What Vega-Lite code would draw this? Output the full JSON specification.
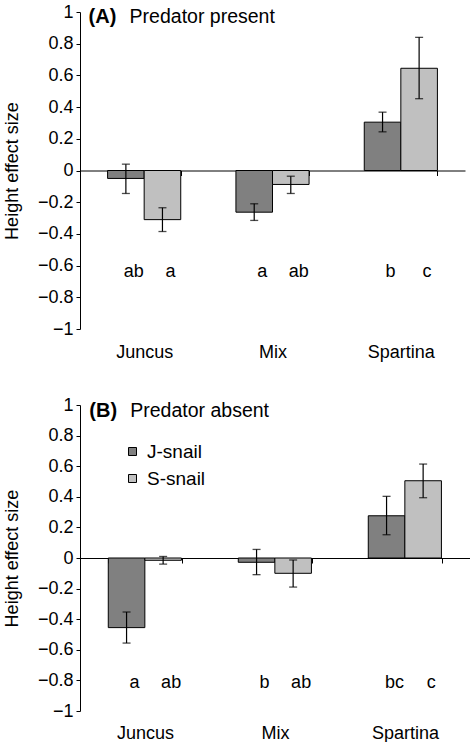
{
  "$schema": "https://vega.github.io/schema/vega-lite/v6.json",
  "background": "white",
  "padding": {"top": 3, "left": 3, "right": 0, "bottom": 0},
  "spacing": 34,
  "resolve": {"scale": {"color": "independent"}, "legend": {"color": "independent"}},
  "datasets": {
    "bars": [
      {"panel": "A", "cat": "Juncus", "snail": "J-snail", "mean": -0.05, "lo": -0.145, "hi": 0.04, "letter": "ab"},
      {"panel": "A", "cat": "Juncus", "snail": "S-snail", "mean": -0.31, "lo": -0.385, "hi": -0.235, "letter": "a"},
      {"panel": "A", "cat": "Mix", "snail": "J-snail", "mean": -0.263, "lo": -0.315, "hi": -0.21, "letter": "a"},
      {"panel": "A", "cat": "Mix", "snail": "S-snail", "mean": -0.088, "lo": -0.145, "hi": -0.036, "letter": "ab"},
      {"panel": "A", "cat": "Spartina", "snail": "J-snail", "mean": 0.305, "lo": 0.244, "hi": 0.368, "letter": "b"},
      {"panel": "A", "cat": "Spartina", "snail": "S-snail", "mean": 0.645, "lo": 0.453, "hi": 0.84, "letter": "c"},
      {"panel": "B", "cat": "Juncus", "snail": "J-snail", "mean": -0.455, "lo": -0.556, "hi": -0.353, "letter": "a"},
      {"panel": "B", "cat": "Juncus", "snail": "S-snail", "mean": -0.015, "lo": -0.04, "hi": 0.01, "letter": "ab"},
      {"panel": "B", "cat": "Mix", "snail": "J-snail", "mean": -0.028, "lo": -0.109, "hi": 0.056, "letter": "b"},
      {"panel": "B", "cat": "Mix", "snail": "S-snail", "mean": -0.1, "lo": -0.19, "hi": -0.013, "letter": "ab"},
      {"panel": "B", "cat": "Spartina", "snail": "J-snail", "mean": 0.276, "lo": 0.152, "hi": 0.403, "letter": "bc"},
      {"panel": "B", "cat": "Spartina", "snail": "S-snail", "mean": 0.505, "lo": 0.394, "hi": 0.614, "letter": "c"}
    ],
    "titles": [
      {"panel": "A", "tag": "(A)", "title": "Predator present"},
      {"panel": "B", "tag": "(B)", "title": "Predator absent"}
    ]
  },
  "vconcat": [
    {
      "width": 385,
      "height": 317,
      "layer": [
        {
          "data": {"name": "bars"},
          "transform": [{"filter": "datum.panel === 'A'"}],
          "mark": {"type": "bar", "stroke": "black", "strokeWidth": 1},
          "encoding": {
            "x": {"field": "cat", "type": "nominal", "sort": ["Juncus", "Mix", "Spartina"],
              "scale": {"paddingInner": 0.43, "paddingOuter": 0.215},
              "axis": {"title": null, "orient": "bottom", "offset": -158.5, "tickBand": "extent", "tickSize": 5, "labelPadding": 168, "labelAngle": 0, "labelFontSize": 18, "labelBaseline": "top"}},
            "xOffset": {"field": "snail", "type": "nominal", "sort": ["J-snail", "S-snail"]},
            "y": {"field": "mean", "type": "quantitative", "scale": {"domain": [-1, 1], "nice": false, "zero": false},
              "axis": {"title": "Height effect size"}},
            "color": {"field": "snail", "type": "nominal", "scale": {"domain": ["J-snail", "S-snail"], "range": ["#808080", "#c0c0c0"]}, "legend": null}
          }
        },
        {
          "data": {"name": "bars"},
          "transform": [{"filter": "datum.panel === 'A'"}],
          "mark": {"type": "rule", "color": "black", "strokeWidth": 1.2},
          "encoding": {
            "x": {"field": "cat", "type": "nominal", "sort": ["Juncus", "Mix", "Spartina"]},
            "xOffset": {"field": "snail", "type": "nominal", "sort": ["J-snail", "S-snail"]},
            "y": {"field": "lo", "type": "quantitative"},
            "y2": {"field": "hi"}
          }
        },
        {
          "data": {"name": "bars"},
          "transform": [{"filter": "datum.panel === 'A'"}],
          "mark": {"type": "tick", "orient": "horizontal", "size": 8, "thickness": 1.3, "color": "black"},
          "encoding": {
            "x": {"field": "cat", "type": "nominal", "sort": ["Juncus", "Mix", "Spartina"]},
            "xOffset": {"field": "snail", "type": "nominal", "sort": ["J-snail", "S-snail"]},
            "y": {"field": "lo", "type": "quantitative"}
          }
        },
        {
          "data": {"name": "bars"},
          "transform": [{"filter": "datum.panel === 'A'"}],
          "mark": {"type": "tick", "orient": "horizontal", "size": 8, "thickness": 1.3, "color": "black"},
          "encoding": {
            "x": {"field": "cat", "type": "nominal", "sort": ["Juncus", "Mix", "Spartina"]},
            "xOffset": {"field": "snail", "type": "nominal", "sort": ["J-snail", "S-snail"]},
            "y": {"field": "hi", "type": "quantitative"}
          }
        },
        {
          "data": {"name": "bars"},
          "transform": [{"filter": "datum.panel === 'A'"}],
          "mark": {"type": "text", "fontSize": 18, "dx": 8, "baseline": "middle", "color": "black"},
          "encoding": {
            "x": {"field": "cat", "type": "nominal", "sort": ["Juncus", "Mix", "Spartina"]},
            "xOffset": {"field": "snail", "type": "nominal", "sort": ["J-snail", "S-snail"]},
            "y": {"datum": -0.64},
            "text": {"field": "letter"}
          }
        },
        {
          "data": {"name": "titles"},
          "transform": [{"filter": "datum.panel === 'A'"}],
          "mark": {"type": "text", "fontSize": 20, "fontWeight": "bold", "align": "left", "baseline": "alphabetic", "dx": -19, "dy": 11, "color": "black"},
          "encoding": {
            "x": {"datum": "Juncus", "type": "nominal", "bandPosition": 0},
            "y": {"datum": 1},
            "text": {"field": "tag"}
          }
        },
        {
          "data": {"name": "titles"},
          "transform": [{"filter": "datum.panel === 'A'"}],
          "mark": {"type": "text", "fontSize": 19.5, "align": "left", "baseline": "alphabetic", "dx": 22, "dy": 11, "color": "black"},
          "encoding": {
            "x": {"datum": "Juncus", "type": "nominal", "bandPosition": 0},
            "y": {"datum": 1},
            "text": {"field": "title"}
          }
        }
      ]
    },
    {
      "width": 390,
      "height": 306,
      "layer": [
        {
          "data": {"name": "bars"},
          "transform": [{"filter": "datum.panel === 'B'"}],
          "mark": {"type": "bar", "stroke": "black", "strokeWidth": 1},
          "encoding": {
            "x": {"field": "cat", "type": "nominal", "sort": ["Juncus", "Mix", "Spartina"],
              "scale": {"paddingInner": 0.435, "paddingOuter": 0.2175},
              "axis": {"title": null, "orient": "bottom", "offset": -153, "tickBand": "extent", "tickSize": 5, "labelPadding": 161, "labelAngle": 0, "labelFontSize": 18, "labelBaseline": "top"}},
            "xOffset": {"field": "snail", "type": "nominal", "sort": ["J-snail", "S-snail"]},
            "y": {"field": "mean", "type": "quantitative", "scale": {"domain": [-1, 1], "nice": false, "zero": false},
              "axis": {"title": "Height effect size"}},
            "color": {"field": "snail", "type": "nominal", "scale": {"domain": ["J-snail", "S-snail"], "range": ["#808080", "#c0c0c0"]},
              "legend": {"title": null, "orient": "none", "legendX": 43, "legendY": 37, "symbolType": "square", "symbolSize": 64, "symbolStrokeColor": "black", "symbolStrokeWidth": 1, "labelFontSize": 19, "labelOffset": 5, "rowPadding": 7, "padding": 0}}
          }
        },
        {
          "data": {"name": "bars"},
          "transform": [{"filter": "datum.panel === 'B'"}],
          "mark": {"type": "rule", "color": "black", "strokeWidth": 1.2},
          "encoding": {
            "x": {"field": "cat", "type": "nominal", "sort": ["Juncus", "Mix", "Spartina"]},
            "xOffset": {"field": "snail", "type": "nominal", "sort": ["J-snail", "S-snail"]},
            "y": {"field": "lo", "type": "quantitative"},
            "y2": {"field": "hi"}
          }
        },
        {
          "data": {"name": "bars"},
          "transform": [{"filter": "datum.panel === 'B'"}],
          "mark": {"type": "tick", "orient": "horizontal", "size": 8, "thickness": 1.3, "color": "black"},
          "encoding": {
            "x": {"field": "cat", "type": "nominal", "sort": ["Juncus", "Mix", "Spartina"]},
            "xOffset": {"field": "snail", "type": "nominal", "sort": ["J-snail", "S-snail"]},
            "y": {"field": "lo", "type": "quantitative"}
          }
        },
        {
          "data": {"name": "bars"},
          "transform": [{"filter": "datum.panel === 'B'"}],
          "mark": {"type": "tick", "orient": "horizontal", "size": 8, "thickness": 1.3, "color": "black"},
          "encoding": {
            "x": {"field": "cat", "type": "nominal", "sort": ["Juncus", "Mix", "Spartina"]},
            "xOffset": {"field": "snail", "type": "nominal", "sort": ["J-snail", "S-snail"]},
            "y": {"field": "hi", "type": "quantitative"}
          }
        },
        {
          "data": {"name": "bars"},
          "transform": [{"filter": "datum.panel === 'B'"}],
          "mark": {"type": "text", "fontSize": 18, "dx": 8, "baseline": "middle", "color": "black"},
          "encoding": {
            "x": {"field": "cat", "type": "nominal", "sort": ["Juncus", "Mix", "Spartina"]},
            "xOffset": {"field": "snail", "type": "nominal", "sort": ["J-snail", "S-snail"]},
            "y": {"datum": -0.82},
            "text": {"field": "letter"}
          }
        },
        {
          "data": {"name": "titles"},
          "transform": [{"filter": "datum.panel === 'B'"}],
          "mark": {"type": "text", "fontSize": 20, "fontWeight": "bold", "align": "left", "baseline": "alphabetic", "dx": -19, "dy": 12, "color": "black"},
          "encoding": {
            "x": {"datum": "Juncus", "type": "nominal", "bandPosition": 0},
            "y": {"datum": 1},
            "text": {"field": "tag"}
          }
        },
        {
          "data": {"name": "titles"},
          "transform": [{"filter": "datum.panel === 'B'"}],
          "mark": {"type": "text", "fontSize": 19.5, "align": "left", "baseline": "alphabetic", "dx": 22, "dy": 12, "color": "black"},
          "encoding": {
            "x": {"datum": "Juncus", "type": "nominal", "bandPosition": 0},
            "y": {"datum": 1},
            "text": {"field": "title"}
          }
        }
      ]
    }
  ],
  "config": {
    "font": "Liberation Sans",
    "view": {"stroke": null},
    "axis": {"grid": false, "domainColor": "black", "tickColor": "black", "labelColor": "black", "titleColor": "black", "labelFont": "Liberation Sans", "titleFont": "Liberation Sans", "domainWidth": 1, "tickWidth": 1},
    "axisY": {"values": [-1, -0.8, -0.6, -0.4, -0.2, 0, 0.2, 0.4, 0.6, 0.8, 1], "format": ".1~f", "labelExpr": "replace(datum.label, '-', '\u2212')", "labelOverlap": false, "tickSize": 4, "labelPadding": 3, "labelFontSize": 18, "titleFontSize": 18, "titleFontWeight": "normal", "titlePadding": 16},
    "legend": {"labelFont": "Liberation Sans", "labelColor": "black"},
    "text": {"font": "Liberation Sans"}
  }
}
